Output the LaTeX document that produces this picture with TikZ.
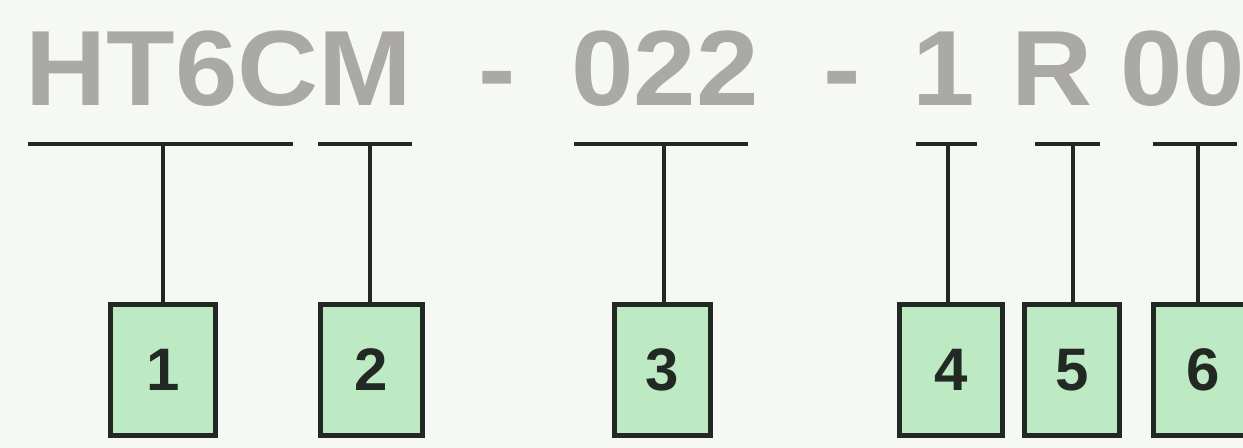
\documentclass[tikz,border=0pt]{standalone}
\usepackage{fontspec}
\setmainfont{Liberation Sans}
\newfontfamily\codefont[FakeStretch=1.05]{Liberation Sans}
\usepackage{xcolor}
\usetikzlibrary{positioning}
\definecolor{GreenB}{HTML}{BDE9C3}
\definecolor{InkA}{HTML}{222824}
\definecolor{GrayA}{HTML}{ABA9A6}
\definecolor{Paper}{HTML}{F6F8F6}
\tikzset{
  code/.style={font=\codefont\fontsize{53.5}{60}\selectfont\bfseries, text=GrayA,
               inner sep=0pt, anchor=base},
  digit/.style={draw=InkA, fill=GreenB, line width=2.5pt, inner sep=0pt,
                minimum height=65.5pt, font=\fontsize{30}{34}\selectfont\bfseries,
                text=InkA},
  bar/.style={draw=InkA, line width=2.2pt},
}

\begin{document}
\begin{tikzpicture}[x=0.5pt,y=-0.5pt]
  \useasboundingbox[fill=Paper] (0,0) rectangle (1243,448);
  % part code
  \node[code] (pre)   at (219,106) {HT6CM};
  \node[code] (dashA) at (497,106) {-};
  \node[code] (len)   at (665,106) {022};
  \node[code] (dashB) at (842,106) {-};
  \node[code] (one)   at (944,106) {1};
  \node[code] (r)     at (1052,106) {R};
  \node[code] (zz)    at (1183,106) {00};
  % numbered boxes
  \node[digit, minimum width=52.5pt] (b1) at (163,370) {1};
  \node[digit, minimum width=51pt]   (b2) at (371,370) {2};
  \node[digit, minimum width=48pt]   (b3) at (662,370) {3};
  \node[digit, minimum width=51.5pt] (b4) at (951,370) {4};
  \node[digit, minimum width=47.5pt] (b5) at (1072,370) {5};
  \node[digit, minimum width=50pt]   (b6) at (1203,370) {6};
  % brackets
  \foreach \n/\l/\r/\s in {1/28/293/163, 2/318/412/370, 3/574/748/664,
                           4/916/977/948, 5/1035/1100/1073, 6/1153/1237/1198} {
    \coordinate (l\n) at (\l,144);
    \coordinate (r\n) at (\r,144);
    \coordinate (t\n) at (\s,144);
    \draw[bar] (l\n) -- (r\n);
    \draw[bar] (t\n) -- (t\n |- b\n.north);
  }
\end{tikzpicture}
\end{document}
